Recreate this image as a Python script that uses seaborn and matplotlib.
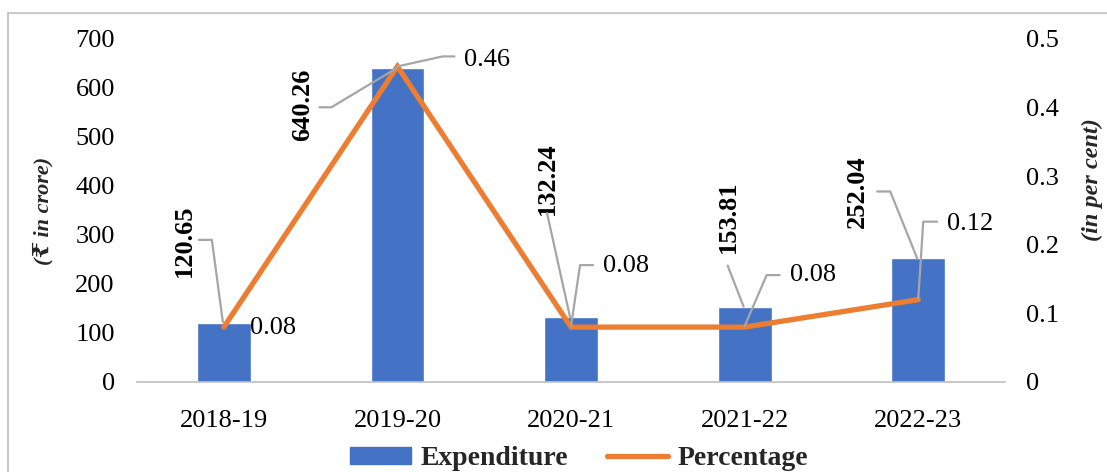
import numpy as np
import pandas as pd
import matplotlib
matplotlib.use("Agg")
import matplotlib.pyplot as plt
from matplotlib.lines import Line2D
from matplotlib.transforms import IdentityTransform
import seaborn as sns

# ---- data ----
years = ["2018-19", "2019-20", "2020-21", "2021-22", "2022-23"]
expenditure = [120.65, 640.26, 132.24, 153.81, 252.04]
percentage = [0.08, 0.46, 0.08, 0.08, 0.12]
left_ticks = [0, 100, 200, 300, 400, 500, 600, 700]
right_ticks = [0, 0.1, 0.2, 0.3, 0.4, 0.5]
right_tick_labels = ["0", "0.1", "0.2", "0.3", "0.4", "0.5"]

# ---- label placement (pixel offsets from each mark, x right / y down) ----
bar_label_offsets = [(-39, -82), (-95, 37), (-24, -139), (-16, -90), (-61, -67)]
bar_leaders = [
    [(-25, -83), (-12, -83), (-1, -1)],
    [(-78, 39), (-66, 39), (-1, 0)],
    [(-24, -104), (-1, 0)],
    [(-17, -41), (-1, 0)],
    [(-41, -67), (-28, -67), (-1, 0)],
]
pct_label_offsets = [(26, 1), (67, -6), (32, -61), (45, -52), (29, -76)]
pct_leaders = [
    None,
    [(0, 0), (45, -10), (57, -10)],
    [(0, -1), (9, -62), (22, -62)],
    [(0, -1), (22, -52), (35, -52)],
    [(0, -1), (5, -78), (19, -78)],
]

BLUE = "#4472C4"
ORANGE = "#ED7D31"
GREY = "#A6A6A6"
FS = 19

sns.set_theme(style="white")
plt.rcParams["font.family"] = ["Liberation Serif", "DejaVu Serif", "DejaVu Sans"]

df = pd.DataFrame({"Year": years, "Expenditure": expenditure, "Percentage": percentage})

fig = plt.figure(figsize=(11.07, 4.72), dpi=100)
ax = fig.add_axes([0.1238, 0.1907, 0.7841, 0.7267])

sns.barplot(data=df, x="Year", y="Expenditure", color=BLUE, width=0.31,
            saturation=1, ax=ax)
ax.set_xlim(-0.5, len(years) - 0.5)
ax.set_ylim(0, 700)
ax.set_yticks(left_ticks)
ax.set_yticklabels([str(t) for t in left_ticks])
ax.set_xlabel("")
ax.set_ylabel("(₹ in crore)", fontsize=16, fontweight="bold", style="italic",
              labelpad=16)

ax2 = ax.twinx()
sns.lineplot(x=np.arange(len(years)), y=df["Percentage"], color=ORANGE,
             linewidth=3.8, ax=ax2, solid_capstyle="round",
             solid_joinstyle="miter", legend=False)
ax2.set_ylim(0, 0.5)
ax2.set_yticks(right_ticks)
ax2.set_yticklabels(right_tick_labels)
ax2.set_ylabel("(in per cent)", fontsize=17.5, fontweight="bold", style="italic")
ax2.yaxis.set_label_coords(1.089, 0.59)
ax.set_xlim(-0.5, len(years) - 0.5)

for a in (ax, ax2):
    for side in ("top", "left", "right"):
        a.spines[side].set_visible(False)
    a.spines["bottom"].set_color("#BFBFBF")
    a.spines["bottom"].set_linewidth(1.2)
    a.tick_params(axis="both", length=0, labelsize=FS, colors="black")
    a.grid(False)
ax2.spines["bottom"].set_visible(False)
ax.tick_params(axis="x", labelsize=FS, pad=20)
ax.tick_params(axis="y", pad=16)
ax2.tick_params(axis="y", pad=15)

# bar value labels
for i, (v, off, leader) in enumerate(zip(expenditure, bar_label_offsets, bar_leaders)):
    ax.annotate(f"{v:.2f}", xy=(i, v), xytext=(off[0], -off[1]),
                textcoords="offset pixels", rotation=90, ha="center", va="center",
                fontsize=FS, fontweight="bold", color="black", zorder=6)
    anchor = ax.transData.transform((i, v))
    pts = np.array([[anchor[0] + dx, anchor[1] - dy] for dx, dy in leader])
    fig.add_artist(Line2D(pts[:, 0], pts[:, 1], transform=IdentityTransform(),
                          color=GREY, linewidth=1.6, zorder=5))

# percentage labels
for i, (v, off, leader) in enumerate(zip(percentage, pct_label_offsets, pct_leaders)):
    ax2.annotate(f"{v:.2f}", xy=(i, v), xytext=(off[0], -off[1]),
                 textcoords="offset pixels", ha="left", va="center",
                 fontsize=FS, color="black", zorder=6)
    if leader is None:
        continue
    anchor = ax2.transData.transform((i, v))
    pts = np.array([[anchor[0] + dx, anchor[1] - dy] for dx, dy in leader])
    fig.add_artist(Line2D(pts[:, 0], pts[:, 1], transform=IdentityTransform(),
                          color=GREY, linewidth=1.6, zorder=5))

# legend below the plot
handles = [plt.Rectangle((0, 0), 1, 1, color=BLUE),
           Line2D([0], [0], color=ORANGE, linewidth=3.8, solid_capstyle="round")]
leg = fig.legend(handles, ["Expenditure", "Percentage"], loc="center",
                 bbox_to_anchor=(0.523, 0.028), ncol=2, frameon=False,
                 prop={"weight": "bold", "size": 20}, handlelength=2.2,
                 handleheight=0.55, handletextpad=0.35, columnspacing=1.4)

# chart frame edges
fig.add_artist(Line2D([7.5 / 1107, 7.5 / 1107], [0, 1 - 13 / 472],
                      transform=fig.transFigure, color="#BFBFBF", linewidth=1.2))
fig.add_artist(Line2D([7.5 / 1107, 1], [1 - 13 / 472, 1 - 13 / 472],
                      transform=fig.transFigure, color="#BFBFBF", linewidth=1.2))

fig.savefig("out.png", dpi=100)
